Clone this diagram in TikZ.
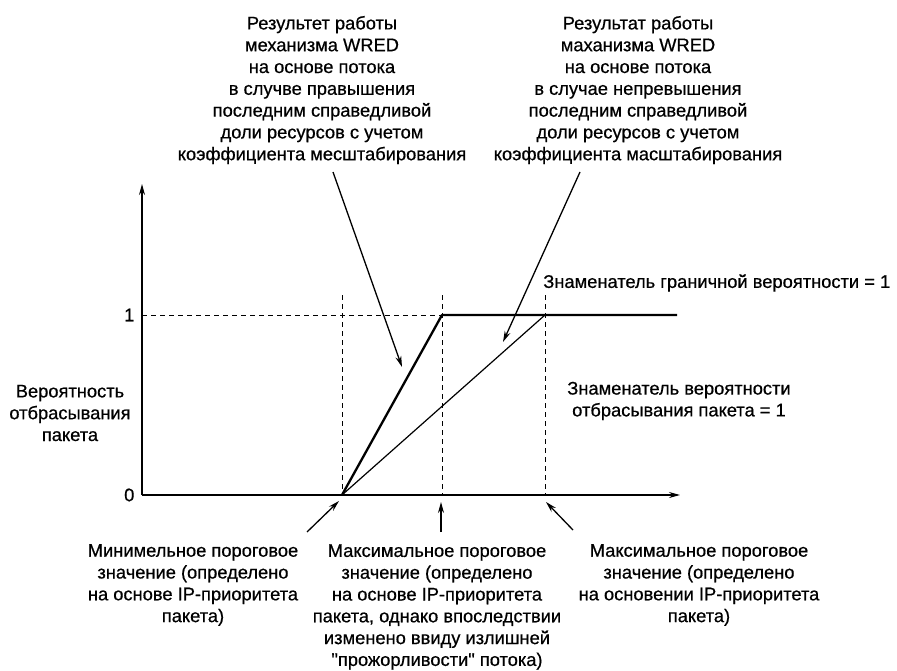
\documentclass[tikz,border=0pt]{standalone}
\usepackage{fontspec}
\setmainfont[FakeBold=0.6,Ligatures=TeXOff]{Liberation Sans}
\usetikzlibrary{arrows.meta}
\usetikzlibrary{positioning}

\begin{document}
\begin{tikzpicture}[x=1pt,y=-1pt,-,semithick,font=\fontsize{18.3}{21.8}\selectfont]
  \tikzstyle{txt}=[align=center, inner sep=0pt]
  \tikzstyle{axis}=[-{Stealth[length=11pt,width=6pt]}, line width=1.4pt]
  \tikzstyle{ptr}=[-{Stealth[length=11pt,width=6pt]}, line width=1.3pt]
  \tikzstyle{guide}=[dash pattern=on 5pt off 4pt, line width=0.9pt]
  \useasboundingbox (0,0) rectangle (897,671);

  \coordinate (O) at (142,495);
  \coordinate (ytop) at (142,184);
  \coordinate (xend) at (680,495);
  \coordinate (minth) at (342,495);
  \coordinate (maxa) at (442,315);
  \coordinate (maxb) at (545,315);
  \coordinate (lim) at (677,315);
  \coordinate (one) at (142,315);

  \draw[axis] (O) -- (ytop);
  \draw[axis] (O) -- (xend);
  \node (l0) [left=4pt of O] {0};
  \node (l1) [left=4pt of one] {1};

  \draw[guide] (one) -- (maxa);
  \foreach \x in {342,442,545}{
    \draw[guide] (\x,295) -- (\x,495);
  }
  \draw[line width=2.3pt, line join=round] (minth) -- (maxa) -- (lim);
  \draw[line width=1.2pt] (minth) -- (maxb);

  \node[txt] (res1) at (322,90) {Результет работы\\механизма WRED\\на основе потока\\в случве правышения\\последним справедливой\\доли ресурсов с учетом\\коэффициента месштабирования};
  \node[txt] (res2) at (638,90) {Результат работы\\маханизма WRED\\на основе потока\\в случае непревышения\\последним справедливой\\доли ресурсов с учетом\\коэффициента масштабирования};
  \node[txt, anchor=west] (den1) at (543,283) {Знаменатель граничной вероятности = 1};
  \node[txt] (den2) at (679,401) {Знаменатель вероятности\\отбрасывания пакета = 1};
  \node[txt] (prob) at (70,413) {Вероятность\\отбрасывания\\пакета};

  \node[txt] (thmin) at (193,585) {Минимельное пороговое\\значение (определено\\на основе IP-приоритета\\пакета)};
  \node[txt] (thmid) at (437,607) {Максимальное пороговое\\значение (определено\\на основе IP-приоритета\\пакета, однако впоследствии\\изменено ввиду излишней\\"прожорливости" потока)};
  \node[txt] (thmax) at (699,585) {Максимальное пороговое\\значение (определено\\на основении IP-приоритета\\пакета)};

  \coordinate (s1) at (333,172);
  \coordinate (e1) at (402,367);
  \coordinate (s2) at (580,172);
  \coordinate (e2) at (503,342);
  \draw[ptr] (s1) -- (e1);
  \draw[ptr] (s2) -- (e2);

  \coordinate (b1) at (307,532);
  \coordinate (b2) at (441,532);
  \coordinate (b3) at (573,530);
  \draw[ptr] (b1) -- (339,501);
  \draw[ptr] (b2) -- (441,502);
  \draw[ptr] (b3) -- (546,502);
\end{tikzpicture}
\end{document}
